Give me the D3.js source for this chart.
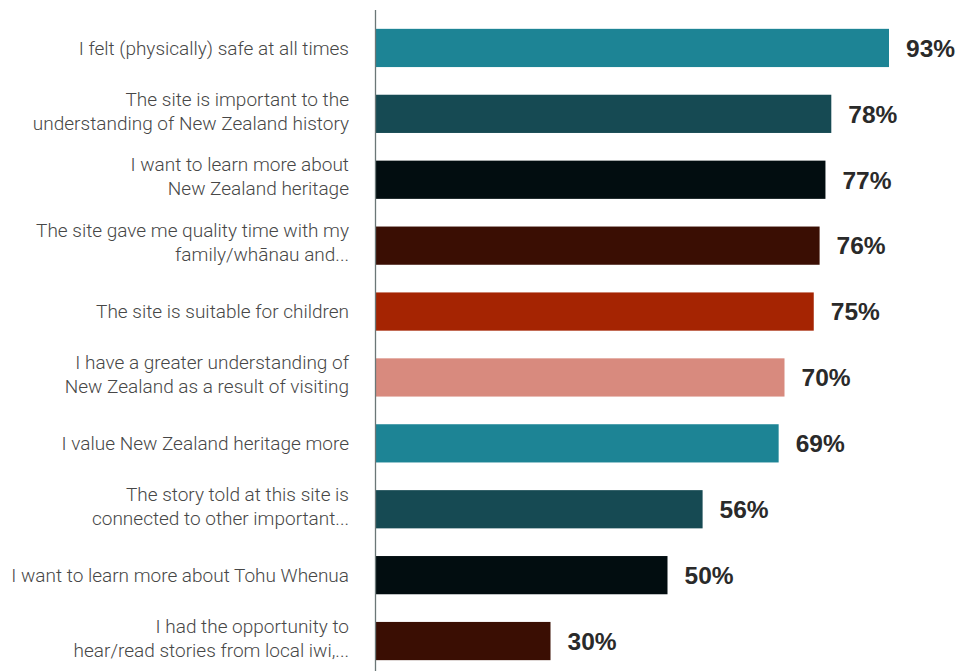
<!DOCTYPE html>
<html>
<head>
<meta charset="utf-8">
<script src="https://cdn.jsdelivr.net/npm/d3@7"></script>
<style>
  html, body { margin: 0; padding: 0; background: #fff; }
  svg { display: block; }
</style>
</head>
<body>
<svg id="chart" width="960" height="671"></svg>
<script>
// Survey statements, each split into the lines it is shown on
const categories = [
  ["I felt (physically) safe at all times"],
  ["The site is important to the", "understanding of New Zealand history"],
  ["I want to learn more about", "New Zealand heritage"],
  ["The site gave me quality time with my", "family/whānau and..."],
  ["The site is suitable for children"],
  ["I have a greater understanding of", "New Zealand as a result of visiting"],
  ["I value New Zealand heritage more"],
  ["The story told at this site is", "connected to other important..."],
  ["I want to learn more about Tohu Whenua"],
  ["I had the opportunity to", "hear/read stories from local iwi,..."]
];

// Share of visitors agreeing (%)
const values = [93, 78, 77, 76, 75, 70, 69, 56, 50, 30];

const valueLabels = ["93%", "78%", "77%", "76%", "75%", "70%", "69%", "56%", "50%", "30%"];

const barColors = [
  "#1d8495", "#164a53", "#020d10", "#3a0e03", "#a52402",
  "#d88a7e", "#1d8495", "#164a53", "#020d10", "#3a0e03"
];

const W = 960, H = 671;
const axisX = 375;
const plotRight = 889;           // bars are clipped at the plot edge

const svg = d3.select("#chart");

const x = d3.scaleLinear().domain([0, 100]).range([axisX, 960]);
const y = d3.scaleBand()
  .domain(d3.range(values.length))
  .range([15, 674])
  .paddingInner(0.42)
  .paddingOuter(0.21);

svg.append("defs").append("clipPath").attr("id", "plot-clip")
  .append("rect")
  .attr("x", axisX).attr("y", 0)
  .attr("width", plotRight - axisX).attr("height", H);

// Bars
svg.append("g").attr("clip-path", "url(#plot-clip)")
  .selectAll("rect")
  .data(values)
  .join("rect")
  .attr("x", x(0))
  .attr("y", (d, i) => y(i))
  .attr("width", d => x(d) - x(0))
  .attr("height", y.bandwidth())
  .attr("fill", (d, i) => barColors[i]);

// Vertical baseline
svg.append("line")
  .attr("x1", axisX + 0.5).attr("x2", axisX + 0.5)
  .attr("y1", 10).attr("y2", H)
  .attr("stroke", "#6b7777")
  .attr("stroke-width", 1.3);

// Value labels at the end of each bar
svg.append("g")
  .selectAll("text")
  .data(values)
  .join("text")
  .attr("x", d => Math.min(x(d), plotRight) + 17)
  .attr("y", (d, i) => y(i) + y.bandwidth() / 2)
  .attr("dy", "0.36em")
  .attr("font-family", "'Liberation Sans', Arial, sans-serif")
  .attr("font-weight", 700)
  .attr("font-size", 24.5)
  .attr("fill", "#2a2a2a")
  .text((d, i) => valueLabels[i]);

// Category labels, right aligned against the baseline
const lineH = 24;
const cat = svg.append("g")
  .selectAll("text")
  .data(categories)
  .join("text")
  .attr("text-anchor", "end")
  .attr("font-family", "Roboto, 'Liberation Sans', sans-serif")
  .attr("font-weight", 300)
  .attr("font-size", 19)
  .attr("fill", "#474747");

cat.each(function (lines, i) {
  const cy = y(i) + y.bandwidth() / 2;
  const top = cy - (lines.length - 1) * (lineH / 2 + 3);
  d3.select(this).selectAll("tspan")
    .data(lines)
    .join("tspan")
    .attr("x", 349)
    .attr("y", (l, j) => top + j * lineH)
    .attr("dy", "0.35em")
    .text(l => l);
});
</script>
</body>
</html>
